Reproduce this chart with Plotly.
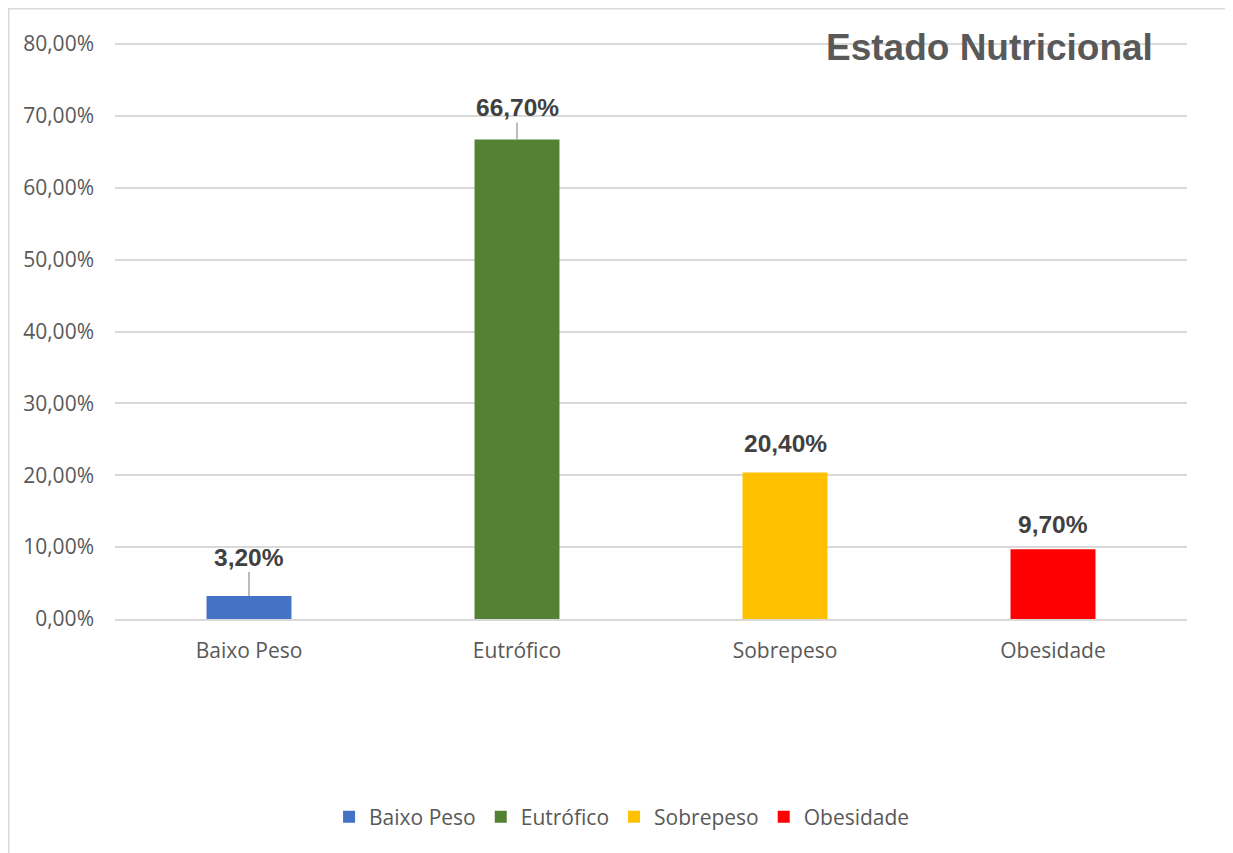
import plotly.graph_objects as go

categories = ["Baixo Peso", "Eutrófico", "Sobrepeso", "Obesidade"]
values = [3.2, 66.7, 20.4, 9.7]
labels = ["3,20%", "66,70%", "20,40%", "9,70%"]
colors = ["#4472C4", "#548235", "#FFC000", "#FF0000"]
label_offsets = [-39, -32, -29, -25]
leader_lines = [True, True, False, False]
tick_vals = [0, 10, 20, 30, 40, 50, 60, 70, 80]
tick_text = ["0,00%", "10,00%", "20,00%", "30,00%", "40,00%", "50,00%", "60,00%", "70,00%", "80,00%"]

W, H = 1225, 845
L, R, T, B = 107, 46, 33, 234
pw, ph = W - L - R, H - T - B
y_top = 80 * ph / 575.0

fig = go.Figure()
for c, v, col in zip(categories, values, colors):
    fig.add_trace(go.Bar(x=[c], y=[v], name=c, marker=dict(color=col, line=dict(width=0)),
                         width=0.317, hoverinfo="skip"))

annotations = []
for c, v, lab, off, ll in zip(categories, values, labels, label_offsets, leader_lines):
    annotations.append(dict(
        x=c, y=v, xref="x", yref="y", text="<b>%s</b>" % lab,
        showarrow=True, arrowhead=0, ax=0, ay=off,
        arrowcolor="#A6A6A6" if ll else "rgba(0,0,0,0)", arrowwidth=1.5,
        font=dict(family="Liberation Sans, Arial, sans-serif", size=24.5, color="#404040"),
    ))
annotations.append(dict(
    x=0.97, y=(ph - 7) / ph, xref="paper", yref="paper", xanchor="right", yanchor="middle",
    text="<b>Estado Nutricional</b>", showarrow=False,
    font=dict(family="Liberation Sans, Arial, sans-serif", size=37, color="#595959"),
))

fig.update_layout(
    width=W, height=H,
    paper_bgcolor="white", plot_bgcolor="white",
    margin=dict(l=L, r=R, t=T, b=B),
    barmode="overlay",
    showlegend=True,
    legend=dict(orientation="h", x=0.473, xanchor="center", y=-198.0 / ph, yanchor="middle",
                font=dict(family="Open Sans, sans-serif", size=21, color="#595959"),
                itemsizing="constant", traceorder="normal", itemwidth=30),
    annotations=annotations,
    font=dict(family="Open Sans, sans-serif", color="#595959"),
    shapes=[dict(type="rect", xref="paper", yref="paper",
                 x0=(0.75 - L) / pw, x1=(W - 1.5 - L) / pw,
                 y0=(ph + T - 900) / ph, y1=(ph + T - 0.75) / ph,
                 line=dict(color="#D9D9D9", width=1.5), layer="below")],
)
fig.update_xaxes(showgrid=False, showline=True, linecolor="#D9D9D9", linewidth=1.5,
                 ticks="", tickfont=dict(family="Open Sans, sans-serif", size=21, color="#595959"),
                 ticklabelstandoff=12)
fig.update_yaxes(range=[0, y_top], tickvals=tick_vals, ticktext=tick_text,
                 showgrid=True, gridcolor="#D9D9D9", gridwidth=1.5, zeroline=False,
                 showline=False, ticks="",
                 tickfont=dict(family="Open Sans, sans-serif", size=21, color="#595959"),
                 ticklabelstandoff=20)

fig.write_html("out.html")
